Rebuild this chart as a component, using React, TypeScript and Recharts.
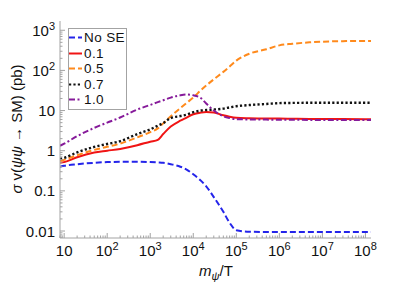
import { Legend, Line, LineChart, XAxis, YAxis } from "recharts";

// m_psi / T sample points
const M_OVER_T = [
  8, 10, 20, 50, 100, 200, 500, 1000, 1500, 2000, 3000, 5000, 7000, 1e4, 1.5e4,
  2e4, 3e4, 5e4, 7e4, 1e5, 2e5, 5e5, 1e6, 2e6, 5e6, 1e7, 3e7, 1e8, 1.35e8,
];

// sigma v (pb), one array per curve
const NO_SE = [
  0.4, 0.42, 0.46, 0.5, 0.52, 0.53, 0.53, 0.52, 0.51, 0.5, 0.46, 0.4, 0.34, 0.26,
  0.18, 0.13, 0.07, 0.03, 0.016, 0.0105, 0.0096, 0.0095, 0.0095, 0.0095, 0.0095,
  0.0095, 0.0095, 0.0095, 0.0095,
];
const SE_01 = [
  0.5, 0.52, 0.69, 0.9, 1.0, 1.11, 1.37, 1.68, 1.87, 2.6, 4.0, 5.6, 6.7, 8.1, 8.9,
  9.2, 8.9, 7.6, 7.0, 6.6, 6.4, 6.3, 6.3, 6.25, 6.2, 6.2, 6.15, 6.1, 6.1,
];
const SE_05 = [
  0.55, 0.59, 0.77, 1.05, 1.25, 1.5, 2.15, 2.9, 3.6, 4.8, 7.2, 11.5, 15.5, 21, 32,
  42, 60, 92, 125, 175, 260, 335, 420, 460, 500, 520, 535, 542, 542,
];
const SE_07 = [
  0.62, 0.66, 0.91, 1.24, 1.47, 1.73, 2.6, 3.4, 4.2, 4.9, 6.5, 7.3, 7.9, 9.1, 10.0,
  10.3, 10.6, 11.2, 12.0, 12.8, 13.7, 14.6, 15.3, 15.5, 15.6, 15.6, 15.6, 15.6, 15.6,
];
const SE_10 = [
  1.33, 1.5, 2.3, 3.7, 5.0, 6.7, 10.6, 13.8, 16.2, 18, 21, 24, 25, 24, 20.5, 15,
  10, 7.2, 6.5, 6.1, 6.0, 5.95, 5.9, 5.9, 5.85, 5.85, 5.8, 5.8, 5.8,
];

const SERIES = [
  { key: "noSE", name: "No SE", values: NO_SE, color: "#2424ea", dash: "6 3", width: 2 },
  { key: "s01", name: "0.1", values: SE_01, color: "#f01414", dash: undefined, width: 2 },
  { key: "s05", name: "0.5", values: SE_05, color: "#ff8a1c", dash: "6 3", width: 2 },
  { key: "s07", name: "0.7", values: SE_07, color: "#111111", dash: "2.2 2.2", width: 2.4 },
  { key: "s10", name: "1.0", values: SE_10, color: "#861a9a", dash: "6 2.5 2 2.5", width: 2 },
];

const X_DECADES = [0, 1, 2, 3, 4, 5, 6, 7, 8];
const Y_DECADES = [-3, -2, -1, 0, 1, 2, 3];
const X_DOMAIN: [number, number] = [8, 1.35e8];
const Y_DOMAIN: [number, number] = [0.0067, 1700];
const Y_SMALL_LABELS: Record<number, string> = { [-2]: "0.01", [-1]: "0.1", 0: "1", 1: "10" };

const FONT = "'Liberation Sans', Arial, sans-serif";
const FRAME = "#a3a3a3";

const data = M_OVER_T.map((x, i) => {
  const row: Record<string, number> = { x };
  SERIES.forEach((s) => (row[s.key] = s.values[i]));
  return row;
});

function logTicks(decades: number[], [lo, hi]: [number, number]) {
  const out: number[] = [];
  decades.forEach((d) => {
    for (let m = 1; m < 10; m++) {
      const v = m * 10 ** d;
      if (v >= lo * 0.9999 && v <= hi) out.push(v);
    }
  });
  return out;
}

const X_TICKS = logTicks(X_DECADES, X_DOMAIN);
const Y_TICKS = logTicks(Y_DECADES, Y_DOMAIN);

const exp10 = (v: number) => Math.log10(v);
const isMajor = (v: number) => Math.abs(exp10(v) - Math.round(exp10(v))) < 1e-6;

function PowLabel({ k, ...rest }: any) {
  if (k < 2) return <text {...rest}>{Y_SMALL_LABELS[k]}</text>;
  return (
    <text {...rest}>
      10
      <tspan dy={-6} fontSize={11}>
        {k}
      </tspan>
    </text>
  );
}

function BottomTick({ x, y, payload }: any) {
  const v = payload.value;
  const major = isMajor(v);
  return (
    <g>
      <line x1={x} x2={x} y1={y} y2={y - (major ? 5 : 2.5)} stroke={FRAME} />
      {major && (
        <PowLabel
          k={Math.round(exp10(v))}
          x={x}
          y={y + 18}
          textAnchor="middle"
          fontSize={15}
          fontFamily={FONT}
          fill="#111"
        />
      )}
    </g>
  );
}

function TopTick({ x, y, payload }: any) {
  const major = isMajor(payload.value);
  return <line x1={x} x2={x} y1={y} y2={y + (major ? 5 : 2.5)} stroke={FRAME} />;
}

function LeftTick({ x, y, payload }: any) {
  const v = payload.value;
  const major = isMajor(v);
  return (
    <g>
      <line x1={x} x2={x + (major ? 5 : 2.5)} y1={y} y2={y} stroke={FRAME} />
      {major && (
        <PowLabel
          k={Math.round(exp10(v))}
          x={x - 5}
          y={y + 5.5}
          textAnchor="end"
          fontSize={15}
          fontFamily={FONT}
          fill="#111"
        />
      )}
    </g>
  );
}

function RightTick({ x, y, payload }: any) {
  const major = isMajor(payload.value);
  return <line x1={x} x2={x - (major ? 5 : 2.5)} y1={y} y2={y} stroke={FRAME} />;
}

function XTitle() {
  return (
    <text x={216} y={276} textAnchor="middle" fontSize={15} fontFamily={FONT} fill="#111">
      <tspan fontStyle="italic">m</tspan>
      <tspan fontStyle="italic" fontSize={11} dy={4}>
        ψ
      </tspan>
      <tspan dy={-4}>/T</tspan>
    </text>
  );
}

function YTitle() {
  return (
    <text
      transform="translate(22,129) rotate(-90)"
      textAnchor="middle"
      fontSize={15}
      fontFamily={FONT}
      fill="#111"
    >
      <tspan fontStyle="italic">σ</tspan> v(<tspan fontStyle="italic">ψψ</tspan> → SM) (pb)
    </text>
  );
}

function LegendBox() {
  return (
    <div
      style={{
        border: `1px solid ${FRAME}`,
        background: "#fff",
        padding: "1px 1px 1px 0",
        fontFamily: FONT,
        fontSize: 13.5,
        color: "#111",
      }}
    >
      {SERIES.map((s) => (
        <div key={s.key} style={{ display: "flex", alignItems: "center", height: 15.5 }}>
          <svg width={13} height={15} style={{ display: "block" }}>
            <line
              x1={0}
              x2={13}
              y1={7.5}
              y2={7.5}
              stroke={s.color}
              strokeWidth={2}
              strokeDasharray={s.dash}
            />
          </svg>
          <span style={{ marginLeft: 2, lineHeight: "15px", whiteSpace: "nowrap", letterSpacing: 0.4 }}>
            {s.name}
          </span>
        </div>
      ))}
    </div>
  );
}

export default function App() {
  return (
    <div style={{ position: "absolute", left: 0, top: 0, background: "#fff" }}>
      <LineChart
        width={407}
        height={286}
        data={data}
        margin={{ top: 21, right: 36, bottom: 0, left: 0 }}
      >
        <XAxis
          dataKey="x"
          type="number"
          scale="log"
          domain={X_DOMAIN}
          allowDataOverflow
          ticks={X_TICKS}
          interval={0}
          height={48}
          tickSize={0}
          tickMargin={0}
          tick={<BottomTick />}
          axisLine={{ stroke: FRAME }}
          label={<XTitle />}
        />
        <XAxis
          xAxisId="top"
          orientation="top"
          dataKey="x"
          type="number"
          scale="log"
          domain={X_DOMAIN}
          allowDataOverflow
          ticks={X_TICKS}
          interval={0}
          height={0}
          tickSize={0}
          tickMargin={0}
          tick={<TopTick />}
          axisLine={{ stroke: FRAME }}
        />
        <YAxis
          type="number"
          scale="log"
          domain={Y_DOMAIN}
          allowDataOverflow
          ticks={Y_TICKS}
          interval={0}
          width={60}
          tickSize={0}
          tickMargin={0}
          tick={<LeftTick />}
          axisLine={{ stroke: FRAME }}
          label={<YTitle />}
        />
        <YAxis
          yAxisId="right"
          orientation="right"
          type="number"
          scale="log"
          domain={Y_DOMAIN}
          allowDataOverflow
          ticks={Y_TICKS}
          interval={0}
          width={0}
          tickSize={0}
          tickMargin={0}
          tick={<RightTick />}
          axisLine={{ stroke: FRAME }}
        />
        <Legend
          layout="vertical"
          align="center"
          verticalAlign="middle"
          wrapperStyle={{ left: 68, top: 28, width: "auto", height: "auto" }}
          content={<LegendBox />}
        />
        {SERIES.map((s) => (
          <Line
            key={s.key}
            dataKey={s.key}
            name={s.name}
            type="monotone"
            stroke={s.color}
            strokeWidth={s.width}
            strokeDasharray={s.dash}
            dot={false}
            activeDot={false}
            isAnimationActive={false}
          />
        ))}
      </LineChart>
    </div>
  );
}
